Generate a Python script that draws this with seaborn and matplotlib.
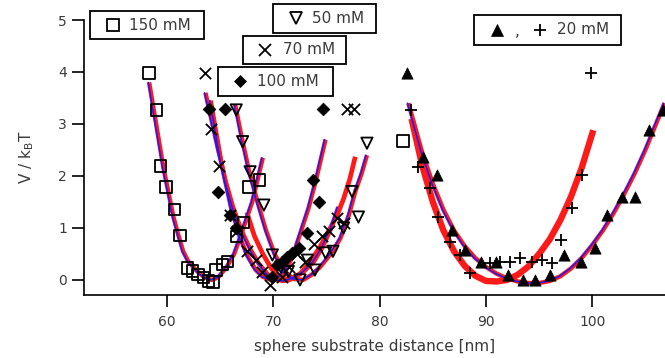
import numpy as np
import pandas as pd
import matplotlib
matplotlib.use("Agg")
import matplotlib.pyplot as plt
import matplotlib.transforms as mtransforms
from matplotlib.patches import Rectangle
from matplotlib.lines import Line2D
import seaborn as sns

# ---------------- data ----------------
x150 = [58.3, 59.0, 59.4, 59.9, 60.7, 61.2, 61.9, 62.4, 62.9, 63.4, 63.9, 64.3, 64.6, 65.2, 65.7,
        66.5, 67.2, 67.7, 68.7, 82.2]
y150 = [3.98, 3.27, 2.19, 1.79, 1.35, 0.85, 0.23, 0.17, 0.10, 0.04, -0.02, -0.04, 0.19, 0.29, 0.35,
        0.83, 1.10, 1.79, 1.92, 2.67]

x70 = [63.6, 64.1, 64.9, 65.9, 66.6, 67.5, 68.4, 68.9, 69.7, 70.8, 71.5, 72.2, 73.0, 73.8, 74.6,
       75.2, 76.0, 76.6, 76.9, 77.6]
y70 = [3.98, 2.90, 2.20, 1.25, 0.95, 0.55, 0.38, 0.15, -0.10, 0.05, 0.25, 0.50, 0.35, 0.70, 0.85,
       0.95, 1.20, 1.10, 3.28, 3.28]

x100 = [63.9, 64.8, 65.4, 65.9, 66.5, 69.9, 70.3, 70.8, 71.3, 71.7, 72.4, 73.2, 73.7, 74.3, 74.7]
y100 = [3.28, 1.70, 3.28, 1.25, 1.00, 0.06, 0.28, 0.35, 0.45, 0.52, 0.62, 0.90, 1.92, 1.50, 3.28]

x50 = [66.5, 67.1, 67.8, 69.1, 69.9, 70.7, 71.4, 72.5, 73.2, 73.9, 74.9, 75.6, 76.6, 77.4, 78.0, 78.8]
y50 = [3.27, 2.66, 2.08, 1.44, 0.48, 0.25, 0.16, 0.00, 0.38, 0.19, 0.52, 0.55, 1.00, 1.70, 1.21, 2.63]

x20_tri = [82.6, 84.1, 85.4, 86.8, 88.05, 89.5, 90.9, 92.1, 93.5, 94.6, 96.0, 97.3, 98.9, 100.3,
           101.4, 102.8, 104.0, 105.3, 106.7]
y20_tri = [3.98, 2.37, 2.02, 0.96, 0.58, 0.35, 0.35, 0.10, 0.00, 0.00, 0.10, 0.48, 0.35, 0.62,
           1.25, 1.60, 1.60, 2.88, 3.27]

x20_plus = [99.9, 82.9, 83.65, 84.7, 85.5, 86.6, 87.6, 88.5, 90.4, 91.3, 92.3, 93.2, 94.3, 95.3,
            96.2, 97.1, 98.1, 99.0]
y20_plus = [3.98, 3.27, 2.17, 1.77, 1.21, 0.73, 0.48, 0.13, 0.33, 0.35, 0.35, 0.42, 0.35, 0.38,
            0.33, 0.77, 1.38, 2.02]

# fit curves
fitA_x = [58.3, 59.0, 59.65, 60.0, 60.6, 61.0, 61.5, 62.0, 62.8, 63.5, 64.2, 64.8, 65.6, 66.3, 67.0, 68.0, 69.0]
fitA_y = [3.80, 2.95, 2.15, 1.80, 1.20, 0.90, 0.55, 0.35, 0.17, 0.05, 0.00, 0.05, 0.25, 0.50, 0.90, 1.50, 2.35]

fitB_x = [63.6, 64.2, 64.8, 65.5, 66.2, 67.0, 67.8, 68.6, 69.5, 70.3, 71.0, 71.8, 72.8, 73.8, 74.6, 75.4, 76.1]
fitB_y = [3.60, 3.05, 2.50, 1.90, 1.40, 0.95, 0.60, 0.32, 0.10, 0.00, -0.02, 0.03, 0.15, 0.35, 0.62, 0.98, 1.40]

fitC_x = [64.1, 64.6, 65.2, 66.0, 66.8, 67.5, 68.3, 69.0, 69.8, 70.5, 71.2, 71.8, 72.5, 73.3, 74.0, 74.9]
fitC_y = [3.45, 2.85, 2.15, 1.40, 0.85, 0.48, 0.20, 0.06, 0.00, 0.05, 0.20, 0.45, 0.88, 1.38, 1.92, 2.70]

fitD_x = [66.4, 67.0, 67.7, 68.5, 69.3, 70.1, 71.0, 71.9, 72.8, 73.6, 74.4, 75.4, 76.3, 77.1, 77.7, 78.3, 78.8]
fitD_y = [3.37, 2.75, 2.10, 1.50, 0.95, 0.50, 0.17, 0.02, 0.00, 0.10, 0.25, 0.50, 0.80, 1.25, 1.70, 2.05, 2.40]

fitE_x = [67.5, 68.2, 69.0, 69.8, 70.6, 71.5, 72.5, 73.2, 73.8, 74.5, 75.3, 76.0, 76.6, 77.2, 77.7]
fitE_y = [1.30, 0.85, 0.50, 0.22, 0.06, 0.00, 0.12, 0.28, 0.45, 0.68, 0.98, 1.25, 1.56, 1.95, 2.37]

fitF_x = [83.0, 84.0, 85.0, 86.0, 87.0, 88.0, 89.0, 90.0, 91.0, 92.0, 93.0, 94.0, 95.0, 96.0, 97.0, 98.0, 99.0, 100.1]
fitF_y = [3.10, 2.20, 1.50, 0.95, 0.55, 0.27, 0.08, -0.02, -0.03, 0.00, 0.10, 0.26, 0.50, 0.78, 1.15, 1.60, 2.15, 2.88]

fitG_x = [82.7, 84.0, 85.0, 86.0, 87.0, 88.0, 89.0, 90.0, 91.0, 92.0, 93.0, 94.0, 95.0, 96.0, 97.0,
          98.0, 99.0, 100.0, 101.0, 102.0, 103.0, 104.0, 105.0, 106.0, 106.8]
fitG_y = [3.40, 2.45, 1.85, 1.35, 0.95, 0.65, 0.42, 0.25, 0.12, 0.03, -0.03, -0.06, -0.06, -0.02, 0.07,
          0.22, 0.42, 0.67, 0.95, 1.28, 1.65, 2.05, 2.50, 3.00, 3.40]

x_ticks = [60, 70, 80, 90, 100]
y_ticks = [0, 1, 2, 3, 4, 5]
x_label = "sphere substrate distance [nm]"
y_label = "V / k$_\\mathrm{B}$T"
legend_labels = ["150 mM", "50 mM", "70 mM", "100 mM", "20 mM"]

# ---------------- figure ----------------
sns.set_theme(style="ticks")
plt.rcParams['font.family'] = ['DejaVu Sans']
TXT = '#3a3a3a'

W, H = 665, 358
fig = plt.figure(figsize=(W / 100, H / 100), dpi=100)
ax = fig.add_axes([84.3 / W, 1 - 295 / H, (665 - 84.3) / W, (295 - 20) / H])

blue_tr = mtransforms.offset_copy(ax.transData, fig=fig, x=-0.9, y=0, units='dots')

def fit(xs, ys, blue=True, lw=3.2):
    sns.lineplot(x=xs, y=ys, ax=ax, sort=False, estimator=None, color="#ff1a1a",
                 lw=lw, zorder=2, solid_capstyle='butt')
    if blue:
        ax.plot(xs, ys, color="#1a1aff", lw=1.1, zorder=2.5, transform=blue_tr)

for fx, fy in [(fitA_x, fitA_y), (fitB_x, fitB_y), (fitC_x, fitC_y), (fitD_x, fitD_y), (fitG_x, fitG_y)]:
    fit(fx, fy)
fit(fitE_x, fitE_y, blue=False, lw=3.4)
fit(fitF_x, fitF_y, blue=False, lw=4.6)

ms = 66
styles = {
    's': dict(marker='s', s=ms, facecolor='none', edgecolor='black', linewidth=1.3),
    'v': dict(marker='v', s=ms, facecolor='none', edgecolor='black', linewidth=1.3),
    'x': dict(marker='x', s=ms, color='black', linewidth=1.3),
    'D': dict(marker='D', s=42, color='black', edgecolor='black', linewidth=0.5),
    '^': dict(marker='^', s=ms, color='black', edgecolor='black', linewidth=0.5),
    '+': dict(marker='+', s=ms, color='black', linewidth=1.3),
}
sns.scatterplot(x=x150, y=y150, ax=ax, zorder=3, **styles['s'])
sns.scatterplot(x=x50, y=y50, ax=ax, zorder=3, **styles['v'])
sns.scatterplot(x=x70, y=y70, ax=ax, zorder=3, **styles['x'])
sns.scatterplot(x=x100, y=y100, ax=ax, zorder=3, **styles['D'])
sns.scatterplot(x=x20_tri, y=y20_tri, ax=ax, zorder=3, **styles['^'])
sns.scatterplot(x=x20_plus, y=y20_plus, ax=ax, zorder=3, **styles['+'])

ax.set_xlim(52.2, 106.85)
ax.set_ylim(-0.29, 5.0)
ax.set_xticks(x_ticks)
ax.set_yticks(y_ticks)
ax.set_xticklabels([str(t) for t in x_ticks])
ax.set_yticklabels([str(t) for t in y_ticks])
ax.tick_params(direction='out', length=8.5, width=1.2, color='black', labelsize=10,
               labelcolor=TXT, pad=4)
ax.tick_params(axis='x', pad=6)
for s in ['top', 'right']:
    ax.spines[s].set_visible(False)
for s in ['left', 'bottom']:
    ax.spines[s].set_linewidth(1.2)
    ax.spines[s].set_color('black')
ax.set_xlabel(x_label, fontsize=11, color=TXT, labelpad=7)
ax.set_ylabel(y_label, fontsize=11, color=TXT, labelpad=16)
ax.grid(False)

# ---------------- legend boxes (pixel geometry) ----------------
def px(x, y):
    return x / W, 1 - y / H

def box(x0, y0, x1, y1):
    fig.add_artist(Rectangle(px(x0, y1), (x1 - x0) / W, (y1 - y0) / H, transform=fig.transFigure,
                             facecolor='white', edgecolor='black', linewidth=1.3, zorder=10))

def sym(key, x, y):
    st = styles[key]
    msz = np.sqrt(st['s'])
    fc = st.get('facecolor', st.get('color'))
    ec = st.get('edgecolor', st.get('color'))
    fig.add_artist(Line2D([px(x, y)[0]], [px(x, y)[1]], transform=fig.transFigure, marker=st['marker'],
                          markersize=msz, markerfacecolor=fc, markeredgecolor=ec,
                          markeredgewidth=st['linewidth'], linestyle='none', zorder=11))

def lab(text, x, y):
    fig.text(*px(x, y), text, ha='left', va='center', fontsize=11, color=TXT, zorder=11)

box(90, 11, 204, 39);   sym('s', 113, 25);   lab(legend_labels[0], 129, 25)
box(273, 4, 376, 33);   sym('v', 296, 18);   lab(legend_labels[1], 312, 18.5)
box(243, 36, 346, 64);  sym('x', 265, 50);   lab(legend_labels[2], 283, 50)
box(218, 67, 333, 96);  sym('D', 240, 81);   lab(legend_labels[3], 257, 81.5)
box(474, 15, 621, 45);  sym('^', 497, 30);   lab(",", 515, 31);  sym('+', 540, 30)
lab(legend_labels[4], 557, 30)

fig.savefig("out.png", dpi=100)
